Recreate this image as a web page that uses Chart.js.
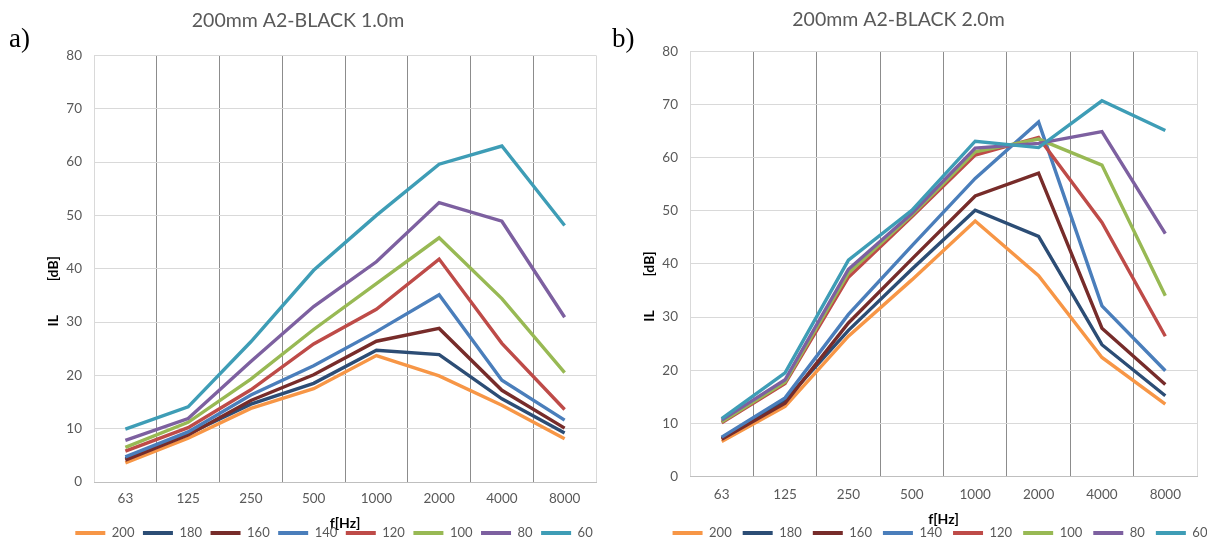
<!DOCTYPE html>
<html>
<head>
<meta charset="utf-8">
<script src="https://cdn.jsdelivr.net/npm/chart.js@4.4.1/dist/chart.umd.min.js"></script>
<style>
  html, body { margin: 0; padding: 0; background: #fff; }
  body { width: 1207px; height: 539px; position: relative; overflow: hidden; }
  .panel { position: absolute; top: 0; height: 539px; }
  #p1 { left: 0; width: 600px; }
  #p2 { left: 600px; width: 607px; }
  .tag { position: absolute; font-family: "Liberation Serif", serif; font-size: 27px; color: #000; line-height: 1; }
</style>
</head>
<body>
<div class="panel" id="p1"><canvas id="c1"></canvas></div>
<div class="panel" id="p2"><canvas id="c2"></canvas></div>
<div class="tag" style="left:9px; top:25px">a)</div>
<div class="tag" style="left:612px; top:25px">b)</div>
<script>
// frequency bands and panel thicknesses
const frequencies = ["63", "125", "250", "500", "1000", "2000", "4000", "8000"];
const seriesNames = ["200", "180", "160", "140", "120", "100", "80", "60"];
const seriesColors = ["#F79646", "#2C4D75", "#772C2A", "#4A7EBB", "#BE4B48", "#98B954", "#7D60A0", "#3E9DB6"];
const yTicks = [0, 10, 20, 30, 40, 50, 60, 70, 80];

// a) 1.0m
const il1m_200 = [3.6, 8.2, 13.8, 17.5, 23.7, 19.9, 14.4, 8.1];
const il1m_180 = [4.4, 9.0, 14.6, 18.5, 24.7, 23.9, 15.6, 9.2];
const il1m_160 = [4.1, 8.8, 15.3, 20.1, 26.4, 28.8, 17.2, 10.1];
const il1m_140 = [4.7, 9.4, 16.3, 21.8, 28.2, 35.1, 19.1, 11.6];
const il1m_120 = [5.8, 10.2, 17.3, 25.9, 32.4, 41.8, 26.0, 13.6];
const il1m_100 = [6.5, 11.2, 19.3, 28.6, 37.2, 45.8, 34.4, 20.5];
const il1m_80 = [7.8, 11.9, 22.6, 32.9, 41.3, 52.4, 48.9, 30.9];
const il1m_60 = [9.9, 14.1, 26.3, 39.7, 50.0, 59.6, 63.0, 48.1];

// b) 2.0m
const il2m_200 = [6.6, 13.2, 26.4, 37.0, 48.1, 37.8, 22.4, 13.6];
const il2m_180 = [7.2, 14.3, 27.5, 39.0, 50.1, 45.2, 24.8, 15.2];
const il2m_160 = [7.0, 13.8, 28.9, 40.9, 52.8, 57.1, 27.9, 17.3];
const il2m_140 = [7.4, 14.8, 30.5, 43.4, 56.1, 66.7, 32.1, 19.9];
const il2m_120 = [10.1, 17.5, 37.5, 48.9, 60.5, 63.8, 47.8, 26.4];
const il2m_100 = [10.3, 17.8, 38.3, 49.2, 61.1, 63.5, 58.6, 34.0];
const il2m_80 = [10.6, 18.2, 39.0, 49.5, 61.8, 62.7, 64.9, 45.7];
const il2m_60 = [10.9, 19.5, 40.7, 50.1, 63.1, 61.9, 70.7, 65.1];

const FONT = "Lato, 'Open Sans', sans-serif";

// "IL ... [dB]" axis title, split like the original
const yTitle = {
  id: "yTitle",
  afterDraw(chart) {
    const { ctx, chartArea } = chart;
    const x = chartArea.left - 41;
    const mid = (chartArea.top + chartArea.bottom) / 2;
    ctx.save();
    ctx.font = "bold 14px " + FONT;
    ctx.fillStyle = "#000";
    ctx.textAlign = "center";
    ctx.textBaseline = "middle";
    [["[dB]", mid], ["IL", mid + 52]].forEach(([t, y]) => {
      ctx.save();
      ctx.translate(x, y);
      ctx.rotate(-Math.PI / 2);
      ctx.fillText(t, 0, 0);
      ctx.restore();
    });
    ctx.restore();
  }
};

// legend sits under the plot, not under the whole canvas
const centerLegend = {
  id: "centerLegend",
  afterLayout(chart, args, opts) {
    const lg = chart.legend, a = chart.chartArea;
    const dx = (a.left + a.right) / 2 - (lg.left + lg.right) / 2 + (opts.shift || 0);
    lg.left += dx;
    lg.right += dx;
  }
};

function makeChart(id, title, values, lay) {
  const datasets = values.map((v, i) => ({
    label: seriesNames[i],
    data: v,
    borderColor: seriesColors[i],
    backgroundColor: seriesColors[i],
    borderWidth: 3.4,
    pointRadius: 0,
    tension: 0,
    order: -i
  }));

  return new Chart(document.getElementById(id), {
    type: "line",
    data: { labels: frequencies, datasets },
    plugins: [yTitle, centerLegend],
    options: {
      responsive: true,
      maintainAspectRatio: false,
      animation: false,
      layout: { padding: { left: 0, right: lay.right, top: 0, bottom: -10.5 } },
      plugins: {
        centerLegend: { shift: lay.legendShift },
        title: {
          display: true,
          text: title,
          color: "#595959",
          font: { family: FONT, size: 19.5, weight: "normal" },
          padding: { top: lay.titleTop, bottom: lay.titleBottom }
        },
        legend: {
          position: "bottom",
          labels: {
            color: "#595959",
            font: { family: FONT, size: 13 },
            boxWidth: 30,
            boxHeight: 4,
            padding: lay.legendPad,
            generateLabels(chart) {
              return Chart.defaults.plugins.legend.labels.generateLabels(chart)
                .map(l => ({ ...l, lineWidth: 0 }));
            },
            sort: (a, b) => a.datasetIndex - b.datasetIndex
          }
        },
        tooltip: { enabled: false }
      },
      scales: {
        x: {
          offset: true,
          grid: {
            offset: true,
            drawTicks: false,
            color: c => (c.index === 0 || c.index === undefined) ? "#d9d9d9" : "#8c8c8c"
          },
          border: { color: "#bfbfbf" },
          ticks: { color: "#595959", font: { family: FONT, size: 13.5 }, padding: lay.tickPad },
          title: {
            display: true,
            text: "f[Hz]",
            color: "#000",
            font: { family: FONT, size: 14, weight: "bold" },
            padding: { top: lay.xTitleTop, bottom: lay.xTitleBottom }
          }
        },
        y: {
          min: 0,
          max: 80,
          afterBuildTicks: s => { s.ticks = yTicks.map(v => ({ value: v })); },
          afterFit: s => { s.width = lay.axisW; },
          grid: { color: "#d9d9d9", drawTicks: false },
          border: { display: false },
          ticks: { color: "#595959", font: { family: FONT, size: 13.5 }, padding: 12 }
        }
      }
    }
  });
}

makeChart("c1", "200mm A2-BLACK 1.0m",
  [il1m_200, il1m_180, il1m_160, il1m_140, il1m_120, il1m_100, il1m_80, il1m_60],
  { axisW: 94, right: 4, titleTop: 9, titleBottom: 23, tickPad: 9,
    xTitleTop: -1, xTitleBottom: -14, legendPad: 8.5, legendShift: -11 });

makeChart("c2", "200mm A2-BLACK 2.0m",
  [il2m_200, il2m_180, il2m_160, il2m_140, il2m_120, il2m_100, il2m_80, il2m_60],
  { axisW: 90, right: 10, titleTop: 8, titleBottom: 20, tickPad: 10,
    xTitleTop: -2, xTitleBottom: -12, legendPad: 11, legendShift: -3.5 });
</script>
</body>
</html>
